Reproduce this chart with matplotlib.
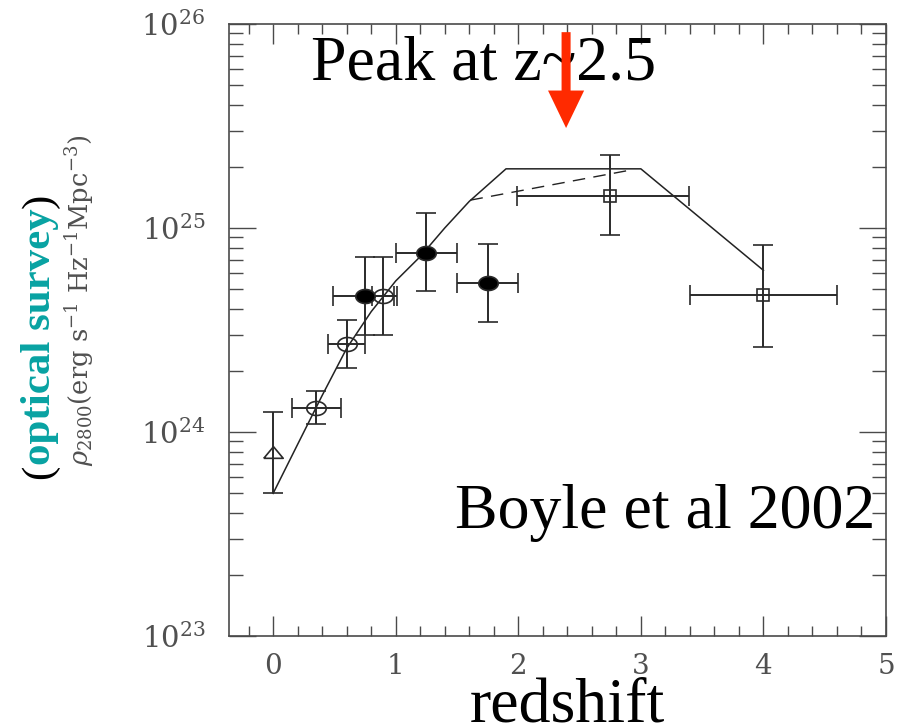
import numpy as np
import matplotlib
matplotlib.use('Agg')
import matplotlib.pyplot as plt
from matplotlib.ticker import MultipleLocator, LogLocator, NullFormatter

# ---- data ----
# model curve (solid)
model_z = [0.0, 0.2, 0.4, 0.6, 0.8, 1.0, 1.2, 1.4, 1.6, 1.9, 3.0, 4.0]
model_rho = [5.0e23, 8.7e23, 1.51e24, 2.57e24, 3.89e24, 5.50e24, 7.24e24,
             1.00e25, 1.35e25, 1.95e25, 1.95e25, 6.2e24]
# alternative model (dashed)
dash_z = [1.61, 2.91]
dash_rho = [1.37e25, 1.92e25]

# triangle (local point)
tri_z = [0.0]
tri_rho = [8.0e23]
tri_lo = [5.0e23]
tri_hi = [1.26e24]

# open circles
oc_z = [0.35, 0.60, 0.90]
oc_zerr = [0.20, 0.15, 0.09]
oc_rho = [1.31e24, 2.70e24, 4.65e24]
oc_lo = [1.10e24, 2.05e24, 2.99e24]
oc_hi = [1.58e24, 3.54e24, 7.23e24]

# filled circles
fc_z = [0.75, 1.25, 1.75]
fc_zerr = [0.26, 0.25, 0.25]
fc_rho = [4.65e24, 7.57e24, 5.40e24]
fc_lo = [2.99e24, 4.91e24, 3.45e24]
fc_hi = [7.23e24, 1.18e25, 8.36e24]

# open squares
sq_z = [2.75, 4.0]
sq_zlo = [0.76, 0.60]
sq_zhi = [0.64, 0.60]
sq_rho = [1.44e25, 4.68e24]
sq_lo = [9.2e24, 2.61e24]
sq_hi = [2.28e25, 8.3e24]

peak_z = 2.39

plt.rcParams['font.family'] = 'DejaVu Serif'
plt.rcParams['mathtext.fontset'] = 'dejavuserif'

fig = plt.figure(figsize=(9.15, 7.23), dpi=100)
ax = fig.add_axes((229/915, 1 - 636/723, 657/915, 612/723))

ecol = '#2a2a2a'
ell = [(np.cos(t), 0.72 * np.sin(t)) for t in np.linspace(0, 2*np.pi, 40)]
tri = [(-0.5, -0.3), (0.5, -0.3), (0.0, 0.3), (-0.5, -0.3)]

ax.plot(model_z, model_rho, color='#222222', lw=1.1, zorder=2)
ax.plot(dash_z, dash_rho, color='#222222', lw=1.0, dashes=(9, 6), zorder=2)


def yerr(v, lo, hi):
    v = np.array(v)
    return [v - np.array(lo), np.array(hi) - v]


ebkw = dict(ls='none', ecolor=ecol, elinewidth=1.4, capsize=7, capthick=1.4,
            mec=ecol, mew=1.2, zorder=3)
ax.errorbar(tri_z, tri_rho, yerr=yerr(tri_rho, tri_lo, tri_hi),
            marker=tri, ms=14, mfc='none', **ebkw)
ax.errorbar(oc_z, oc_rho, xerr=oc_zerr, yerr=yerr(oc_rho, oc_lo, oc_hi),
            marker=ell, ms=14, mfc='none', **ebkw)
ax.errorbar(fc_z, fc_rho, xerr=fc_zerr, yerr=yerr(fc_rho, fc_lo, fc_hi),
            marker=ell, ms=14, mfc='black', **ebkw)
ax.errorbar(sq_z, sq_rho, xerr=[sq_zlo, sq_zhi], yerr=yerr(sq_rho, sq_lo, sq_hi),
            marker='s', ms=9, mfc='none', **ebkw)

ax.set_yscale('log')
ax.set_xlim(-0.36, 5.0)
ax.set_ylim(1e23, 1e26)

ax.xaxis.set_major_locator(MultipleLocator(1))
ax.xaxis.set_minor_locator(MultipleLocator(0.2))
ax.yaxis.set_major_locator(LogLocator(base=10))
ax.yaxis.set_minor_locator(LogLocator(base=10, subs=np.arange(2, 10)))
ax.yaxis.set_minor_formatter(NullFormatter())

tcol = '#4a4a4a'
for s in ax.spines.values():
    s.set_color(tcol)
    s.set_linewidth(1.2)
ax.tick_params(axis='both', which='both', direction='in', top=True, right=True,
               color=tcol, width=1.0, labelcolor='#505050')
ax.tick_params(axis='x', which='major', length=14.5, pad=12, labelsize=20)
ax.tick_params(axis='x', which='minor', length=7.2)
ax.tick_params(axis='y', which='major', length=19.5, pad=17, labelsize=21)
ax.tick_params(axis='y', which='minor', length=10)

# red arrow marking the peak
ax.annotate('', xy=(peak_z, 10**25.49), xytext=(peak_z, 10**25.96),
            arrowprops=dict(width=6.5, headwidth=26, headlength=27, shrink=0,
                            color='#ff2a00', lw=0),
            zorder=10, annotation_clip=False)

ax.text(311/915, 1 - 80/723, 'Peak at z~2.5', transform=fig.transFigure,
        family='Liberation Serif', fontsize=46, va='baseline', ha='left',
        zorder=5, clip_on=False)
fig.text(455/915, 1 - 528/723, 'Boyle et al 2002', family='Liberation Serif',
         fontsize=46, va='baseline', ha='left')
fig.text(470/915, 1 - 721/723, 'redshift', family='Liberation Serif',
         fontsize=46, va='baseline', ha='left')

# y label
fig.text(80/915, 1 - 300/723,
         r'$\rho_{2800}(\mathrm{erg\ s^{-1}\ Hz^{-1}Mpc^{-3}})$',
         rotation=90, ha='center', va='center', fontsize=18.5, color='#505050')

# (optical survey)
p1 = fig.text(40/915, 1 - 479/723, '(', rotation=90, ha='center', va='bottom',
              family='Liberation Serif', fontsize=31, color='black')
p2 = fig.text(0, 0, 'optical survey', rotation=90, ha='center', va='bottom',
              family='Liberation Serif', fontweight='bold', fontsize=31,
              color='#08a2a2')
p3 = fig.text(0, 0, ')', rotation=90, ha='center', va='bottom',
              family='Liberation Serif', fontsize=31, color='black')
fig.canvas.draw()
r = fig.canvas.get_renderer()
inv = fig.transFigure.inverted()
b1 = p1.get_window_extent(r)
p2.set_position(inv.transform((b1.x0 + b1.width/2, b1.y1)))
b2 = p2.get_window_extent(r)
p3.set_position(inv.transform((b1.x0 + b1.width/2, b2.y1)))

fig.savefig('out.png', dpi=100)
